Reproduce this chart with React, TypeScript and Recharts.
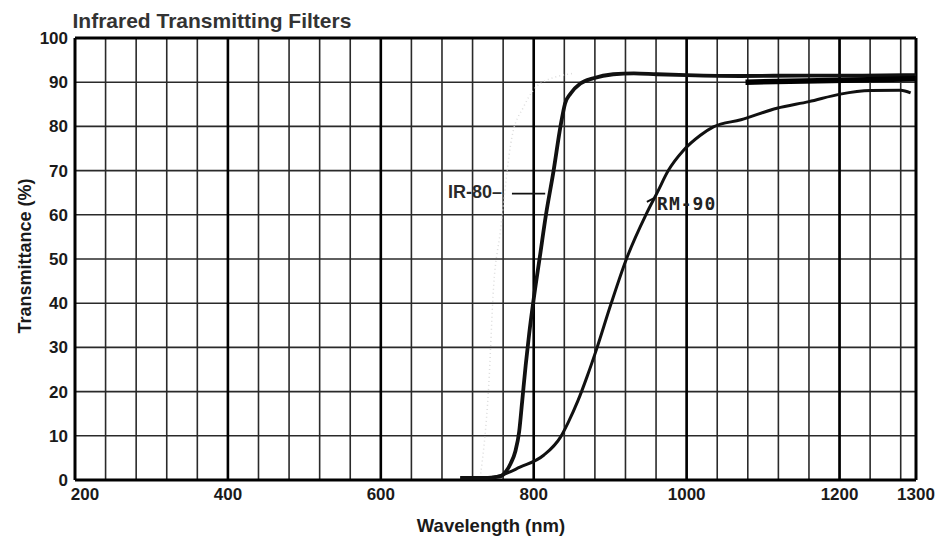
import {
  LineChart,
  Line,
  XAxis,
  YAxis,
  CartesianGrid,
  ReferenceLine,
  ReferenceDot,
} from 'recharts';

// axis ticks
const wavelengthLabels = [200, 400, 600, 800, 1000, 1200, 1300];
const gridWavelengths = [
  200, 240, 280, 320, 360, 400, 440, 480, 520, 560, 600, 640, 680, 720, 760, 800, 840, 880, 920,
  960, 1000, 1040, 1080, 1120, 1160, 1200, 1240, 1280, 1300,
];
const majorWavelengths = [400, 600, 800, 1000, 1200];
const transmittanceTicks = [0, 10, 20, 30, 40, 50, 60, 70, 80, 90, 100];

// IR-80 filter
const ir80Wavelength = [
  704, 740, 756, 764, 770, 776, 781, 785, 789.5, 794, 800, 808, 816, 826, 835, 841, 848, 861, 878,
  904, 931, 961, 1000, 1070, 1150, 1230, 1300,
];
const ir80Transmittance = [
  0.5, 0.5, 0.8, 2.0, 3.8, 6.5, 11, 18, 26, 33, 41, 50.5, 60, 70, 80, 85.2, 87.4, 89.7, 90.9, 91.8,
  92.0, 91.8, 91.6, 91.4, 91.5, 91.5, 91.6,
];

// heavy stroke along the top right of IR-80
const ir80TailWavelength = [1077, 1190, 1300];
const ir80TailTransmittance = [90.0, 90.4, 90.8];

// RM-90 filter
const rm90Wavelength = [
  704, 740, 756, 782, 813, 835, 845, 858, 870, 882, 901, 921, 947, 962, 976, 996, 1018, 1035, 1071,
  1118, 1160, 1201, 1241, 1280, 1293,
];
const rm90Transmittance = [
  0.5, 0.5, 1.0, 2.9, 5.6, 9.7, 13, 18, 23.5, 29.5, 39.8, 49.9, 60.1, 65.2, 70, 74.6, 78.0, 79.9,
  81.5, 84.1, 85.6, 87.3, 88.1, 88.2, 87.6,
];

// faint scan trace left of IR-80
const traceWavelength = [730, 741, 747.5, 756, 771.5, 786.7, 808.6, 852];
const traceTransmittance = [0.6, 21, 43.7, 55.8, 77.6, 84.4, 89.7, 92.0];

const toPoints = (xs: number[], ys: number[]) => xs.map((wl, i) => ({ wl, t: ys[i] }));

const ir80Data = toPoints(ir80Wavelength, ir80Transmittance);
const ir80TailData = toPoints(ir80TailWavelength, ir80TailTransmittance);
const rm90Data = toPoints(rm90Wavelength, rm90Transmittance);
const traceData = toPoints(traceWavelength, traceTransmittance);

const FONT = '"Liberation Sans", Arial, Helvetica, sans-serif';
const INK = '#1a1a1a';

function WavelengthTick({ x, y, payload }: any) {
  if (!wavelengthLabels.includes(payload.value)) return null;
  const shift = payload.value === 200 ? 10 : 0;
  return (
    <text
      x={x + shift}
      y={y}
      dy="0.71em"
      textAnchor="middle"
      fontFamily={FONT}
      fontWeight="bold"
      fontSize={17}
      fill={INK}
    >
      {payload.value}
    </text>
  );
}

export default function App() {
  return (
    <div style={{ position: 'absolute', left: 0, top: 0, width: 939, height: 542, background: '#fff' }}>
      <LineChart
        width={939}
        height={542}
        margin={{ top: 38, right: 23, left: 0, bottom: 0 }}
      >
        <CartesianGrid stroke="#2a2a2a" strokeWidth={1.6} />
        <XAxis
          type="number"
          dataKey="wl"
          domain={[200, 1300]}
          ticks={gridWavelengths}
          interval={0}
          height={62}
          axisLine={false}
          tickLine={false}
          tickSize={0}
          tickMargin={8}
          tick={<WavelengthTick />}
          allowDataOverflow
        />
        <YAxis
          type="number"
          domain={[0, 100]}
          ticks={transmittanceTicks}
          interval={0}
          width={75}
          axisLine={false}
          tickLine={false}
          tickSize={0}
          tickMargin={7}
          tick={{ fontFamily: FONT, fontWeight: 'bold', fontSize: 17, fill: INK }}
        />
        {majorWavelengths.map((wl) => (
          <ReferenceLine key={wl} x={wl} stroke="#000" strokeWidth={2.6} />
        ))}
        <ReferenceLine x={200} stroke="#000" strokeWidth={3} />
        <ReferenceLine x={1300} stroke="#000" strokeWidth={3} />
        <ReferenceLine y={0} stroke="#000" strokeWidth={3} />
        <ReferenceLine y={100} stroke="#000" strokeWidth={3} />

        <Line
          data={traceData}
          dataKey="t"
          type="monotone"
          stroke="#dcdcdc"
          strokeWidth={1.5}
          strokeDasharray="1 3"
          dot={false}
          isAnimationActive={false}
        />
        <Line
          data={rm90Data}
          dataKey="t"
          type="monotone"
          stroke="#111"
          strokeWidth={3}
          dot={false}
          isAnimationActive={false}
        />
        <Line
          data={ir80Data}
          dataKey="t"
          type="monotone"
          stroke="#111"
          strokeWidth={3.8}
          dot={false}
          isAnimationActive={false}
        />
        <Line
          data={ir80TailData}
          dataKey="t"
          type="linear"
          stroke="#000"
          strokeWidth={5.5}
          dot={false}
          isAnimationActive={false}
        />

        <ReferenceLine
          segment={[
            { x: 771.5, y: 64.8 },
            { x: 815, y: 64.8 },
          ]}
          stroke="#111"
          strokeWidth={1.6}
        />
        <ReferenceLine
          segment={[
            { x: 948, y: 62.9 },
            { x: 956.8, y: 63.7 },
          ]}
          stroke="#111"
          strokeWidth={2}
        />
        <ReferenceDot
          x={758.5}
          y={63.7}
          r={0}
          fill="none"
          stroke="none"
          label={({ viewBox }: any) => (
            <text
              x={viewBox.x + viewBox.width / 2}
              y={viewBox.y + viewBox.height / 2}
              textAnchor="end"
              fontFamily={FONT}
              fontWeight="bold"
              fontSize={18}
              fill="#2a2a2a"
            >
              IR-80–
            </text>
          )}
        />
        <ReferenceDot
          x={961.3}
          y={61.0}
          r={0}
          fill="none"
          stroke="none"
          label={({ viewBox }: any) => (
            <text
              x={viewBox.x + viewBox.width / 2}
              y={viewBox.y + viewBox.height / 2}
              textAnchor="start"
              fontFamily='"DejaVu Sans Mono", "Liberation Mono", monospace'
              fontWeight="bold"
              fontSize={18}
              letterSpacing={1}
              fill="#222"
            >
              RM-90
            </text>
          )}
        />
      </LineChart>
      <svg
        width={939}
        height={542}
        style={{ position: 'absolute', left: 0, top: 0, pointerEvents: 'none' }}
      >
        <text x={72.5} y={27.7} fontFamily={FONT} fontWeight="bold" fontSize={21} fill="#333">
          Infrared Transmitting Filters
        </text>
        <text
          x={491}
          y={532}
          textAnchor="middle"
          fontFamily={FONT}
          fontWeight="bold"
          fontSize={18.5}
          fill={INK}
        >
          Wavelength (nm)
        </text>
        <text
          transform="translate(31,256) rotate(-90)"
          textAnchor="middle"
          fontFamily={FONT}
          fontWeight="bold"
          fontSize={18}
          fill={INK}
        >
          Transmittance (%)
        </text>
      </svg>
    </div>
  );
}
